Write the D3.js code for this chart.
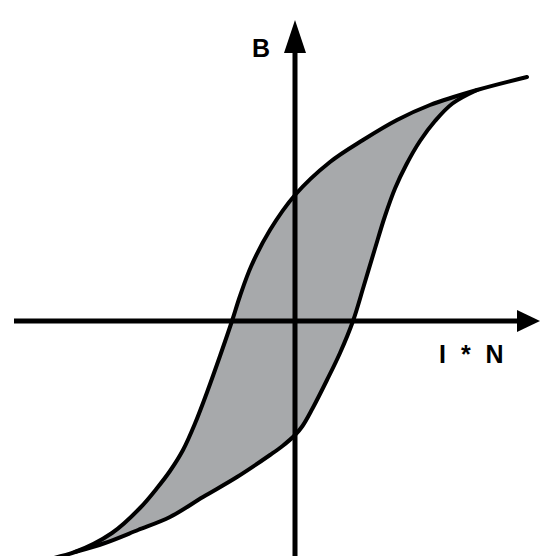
<!DOCTYPE html>
<html>
<head>
<meta charset="utf-8">
<script src="https://cdn.jsdelivr.net/npm/d3@7"></script>
<style>
  body { margin: 0; background: #fff; }
  svg { display: block; }
</style>
</head>
<body>
<svg id="vis-1"></svg>
<script>

WIDTH = 540;
HEIGHT = 556;

// descending branch, top right tail -> bottom left tail (H = I*N, B)
const upperH = [9.28, 7.28, 5.40, 4.08, 2.72, 1.40, 0, -1.00, -1.75, -2.20, -2.52, -3.00, -3.50, -4.00, -4.48, -5.00, -5.50, -6.20, -7.32, -8.80, -10.80];
const upperB = [9.76, 9.24, 8.64, 8.04, 7.24, 6.36, 5.04, 3.64, 2.20, 1.00, 0, -1.40, -2.80, -4.10, -5.16, -6.00, -6.66, -7.48, -8.48, -9.24, -9.72];

// ascending branch, bottom left join -> top right join
const lowerH = [-8.80, -7.60, -6.28, -5.00, -3.68, -2.32, -1.00, -0.50, 0, 0.30, 0.70, 1.28, 1.80, 2.32, 2.75, 3.20, 3.60, 4.00, 4.45, 5.00, 5.60, 6.30, 7.28];
const lowerB = [-9.24, -8.88, -8.36, -7.84, -7.04, -6.24, -5.36, -5.00, -4.56, -4.20, -3.50, -2.36, -1.28, 0, 1.40, 2.90, 4.20, 5.30, 6.25, 7.20, 8.00, 8.70, 9.24];

// axis extents
const axisH = [-11.24, 9.8];
const axisB = [-9.6, 12.04];

const labels = ["B", "I * N"];

const x = d3.scaleLinear().domain([-10, 10]).range([45, 545]);
const y = d3.scaleLinear().domain([-10, 10]).range([571, 71]);

const SVG = d3.select("#vis-1")
    .attr("width", WIDTH)
    .attr("height", HEIGHT);

const upper = upperH.map((h, i) => [h, upperB[i]]);
const lower = lowerH.map((h, i) => [h, lowerB[i]]);

const line = d3.line()
    .x(d => x(d[0]))
    .y(d => y(d[1]))
    .curve(d3.curveCatmullRom.alpha(0.5));

// loop area: descending part between the joins, then ascending part back
const loopTop = upper.slice(1, upper.length - 1);
const fillPath = line(loopTop) + line(lower).replace(/^M/, "L") + "Z";

SVG.append("path")
    .attr("d", fillPath)
    .attr("fill", "#a7a9ab")
    .attr("stroke", "none");

// axes
const ax = SVG.append("g").attr("fill", "#000").attr("stroke", "#000");
const head = 23, half = 11;

ax.append("line")
    .attr("x1", x(axisH[0])).attr("x2", x(axisH[1]) - head + 2)
    .attr("y1", y(0)).attr("y2", y(0))
    .attr("stroke-width", 5);
ax.append("path")
    .attr("stroke", "none")
    .attr("d", `M${x(axisH[1])},${y(0)}L${x(axisH[1]) - head},${y(0) - half}L${x(axisH[1]) - head},${y(0) + half}Z`);

ax.append("line")
    .attr("x1", x(0)).attr("x2", x(0))
    .attr("y1", y(axisB[0])).attr("y2", y(axisB[1]) + 31)
    .attr("stroke-width", 5);
ax.append("path")
    .attr("stroke", "none")
    .attr("d", `M${x(0)},${y(axisB[1])}L${x(0) - half},${y(axisB[1]) + 33}L${x(0) + half},${y(axisB[1]) + 33}Z`);

// hysteresis curves
SVG.selectAll(".branch")
    .data([upper, lower])
    .join("path")
    .attr("class", "branch")
    .attr("d", line)
    .attr("fill", "none")
    .attr("stroke", "#000")
    .attr("stroke-width", 4)
    .attr("stroke-linecap", "round");

SVG.append("text")
    .attr("x", x(0) - 34)
    .attr("y", 57)
    .attr("text-anchor", "middle")
    .style("font", "bold 25px 'Liberation Sans', Arial, sans-serif")
    .text(labels[0]);

SVG.append("text")
    .attr("x", 439)
    .attr("y", 363)
    .style("font", "bold 25px 'Liberation Sans', Arial, sans-serif")
    .style("letter-spacing", "4px")
    .text(labels[1]);

</script>
</body>
</html>
